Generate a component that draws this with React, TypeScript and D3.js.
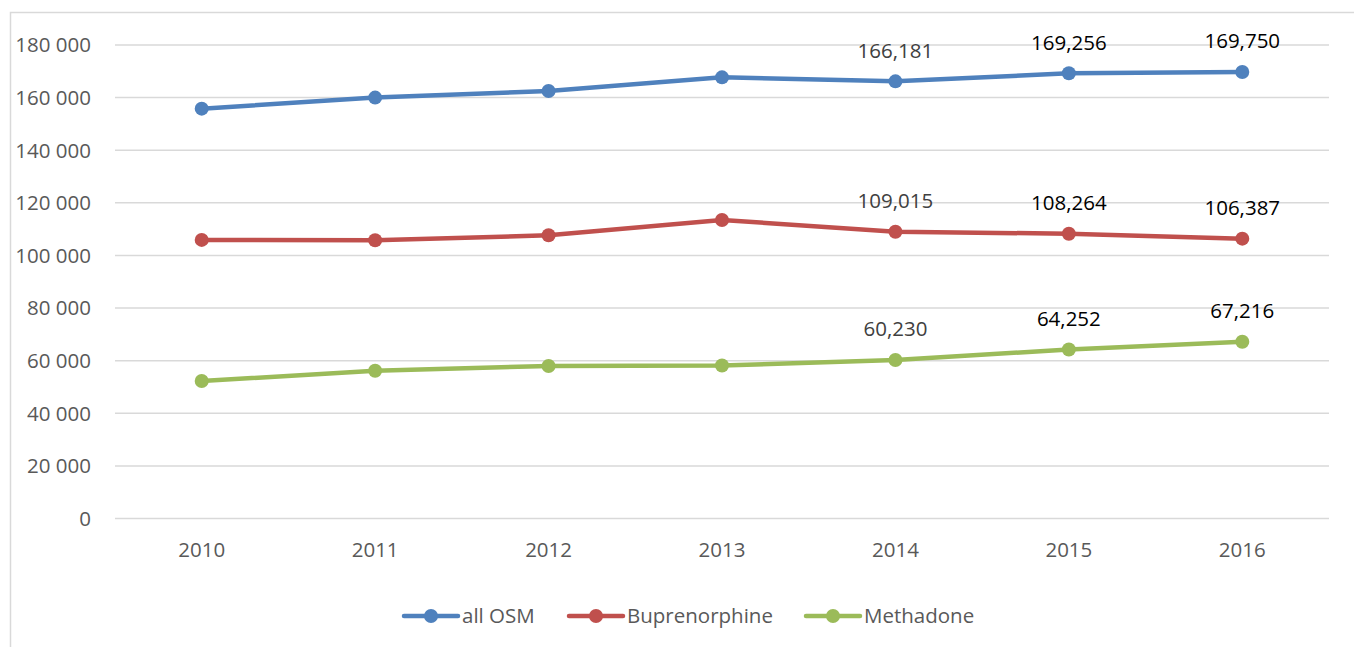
import React, { useEffect, useRef } from 'react';
import * as d3 from 'd3';

const W = 1354, H = 647;
const MARGIN = { top: 45, right: 25, bottom: 128.5, left: 115 };
const INNER_W = W - MARGIN.left - MARGIN.right;
const INNER_H = H - MARGIN.top - MARGIN.bottom;
const FONT = '"Open Sans", "Noto Sans", sans-serif';

const years = ['2010', '2011', '2012', '2013', '2014', '2015', '2016'];
const allOsm = [155800, 160000, 162500, 167700, 166181, 169256, 169750];
const buprenorphine = [105900, 105750, 107650, 113470, 109015, 108264, 106387];
const methadone = [52270, 56190, 57970, 58160, 60230, 64252, 67216];
const yTicks = [0, 20000, 40000, 60000, 80000, 100000, 120000, 140000, 160000, 180000];
// only the last three years carry a data label
const labelYears = ['2014', '2015', '2016'];
const labelColors = ['#404040', '#000000', '#000000'];

const series = [
  { name: 'all OSM', values: allOsm, color: '#4F81BD' },
  { name: 'Buprenorphine', values: buprenorphine, color: '#C0504D' },
  { name: 'Methadone', values: methadone, color: '#9BBB59' },
];

const fmtTick = (d: number) => d3.format(',')(d).replace(/,/g, ' ');
const fmtLabel = d3.format(',');

export default function App() {
  const ref = useRef<SVGSVGElement | null>(null);

  useEffect(() => {
    const svg = d3.select(ref.current);
    svg.selectAll('*').remove();

    // outer chart border (right/bottom edges fall outside the frame)
    svg.append('rect')
      .attr('x', 10.5).attr('y', 12.5)
      .attr('width', W + 40).attr('height', H + 40)
      .attr('fill', 'none').attr('stroke', '#D9D9D9').attr('stroke-width', 1.5);

    const g = svg.append('g').attr('transform', `translate(${MARGIN.left},${MARGIN.top})`);

    const x = d3.scaleBand().domain(years).range([0, INNER_W]);
    const y = d3.scaleLinear().domain([0, 180000]).range([INNER_H, 0]);
    const cx = (yr: string) => (x(yr) as number) + x.bandwidth() / 2;

    // gridlines
    g.append('g').selectAll('line').data(yTicks).join('line')
      .attr('x1', 0).attr('x2', INNER_W)
      .attr('y1', d => y(d)).attr('y2', d => y(d))
      .attr('stroke', '#D9D9D9').attr('stroke-width', 1.5);

    // y axis labels
    g.append('g').selectAll('text').data(yTicks).join('text')
      .attr('x', -24).attr('y', d => y(d)).attr('dy', '0.36em')
      .attr('text-anchor', 'end')
      .attr('fill', '#595959').attr('font-size', '20.5px').attr('font-family', FONT)
      .text(d => fmtTick(d));

    // x axis labels
    g.append('g').selectAll('text').data(years).join('text')
      .attr('x', d => cx(d)).attr('y', INNER_H + 31).attr('dy', '0.36em')
      .attr('text-anchor', 'middle')
      .attr('fill', '#595959').attr('font-size', '20.5px').attr('font-family', FONT)
      .text(d => d);

    const line = d3.line<number>()
      .x((_, i) => cx(years[i]))
      .y(d => y(d));

    series.forEach(s => {
      g.append('path')
        .attr('d', line(s.values))
        .attr('fill', 'none').attr('stroke', s.color)
        .attr('stroke-width', 4.5).attr('stroke-linejoin', 'round');

      g.append('g').selectAll('circle').data(s.values).join('circle')
        .attr('cx', (_, i) => cx(years[i])).attr('cy', d => y(d))
        .attr('r', 7).attr('fill', s.color);

      g.append('g').selectAll('text')
        .data(s.values.map((v, i) => ({ v, yr: years[i] })).filter(d => labelYears.includes(d.yr)))
        .join('text')
        .attr('x', d => cx(d.yr)).attr('y', d => y(d.v) - 31).attr('dy', '0.36em')
        .attr('text-anchor', 'middle')
        .attr('fill', d => labelColors[labelYears.indexOf(d.yr)])
        .attr('font-size', '20.5px').attr('font-family', FONT)
        .text(d => fmtLabel(d.v));
    });

    // legend
    const legendY = 616;
    const legendX = [404, 569, 806];
    series.forEach((s, i) => {
      const lg = svg.append('g').attr('transform', `translate(${legendX[i]},${legendY})`);
      lg.append('line').attr('x1', 0).attr('x2', 54).attr('y1', 0).attr('y2', 0)
        .attr('stroke', s.color).attr('stroke-width', 4.5).attr('stroke-linecap', 'round');
      lg.append('circle').attr('cx', 27).attr('cy', 0).attr('r', 7).attr('fill', s.color);
      lg.append('text').attr('x', 58).attr('y', 0).attr('dy', '0.36em')
        .attr('fill', '#595959').attr('font-size', '20.5px').attr('font-family', FONT)
        .text(s.name);
    });
  }, []);

  return (
    <div style={{ position: 'absolute', left: 0, top: 0 }}>
      <svg ref={ref} width={W} height={H} style={{ display: 'block', background: '#fff' }} />
    </div>
  );
}
